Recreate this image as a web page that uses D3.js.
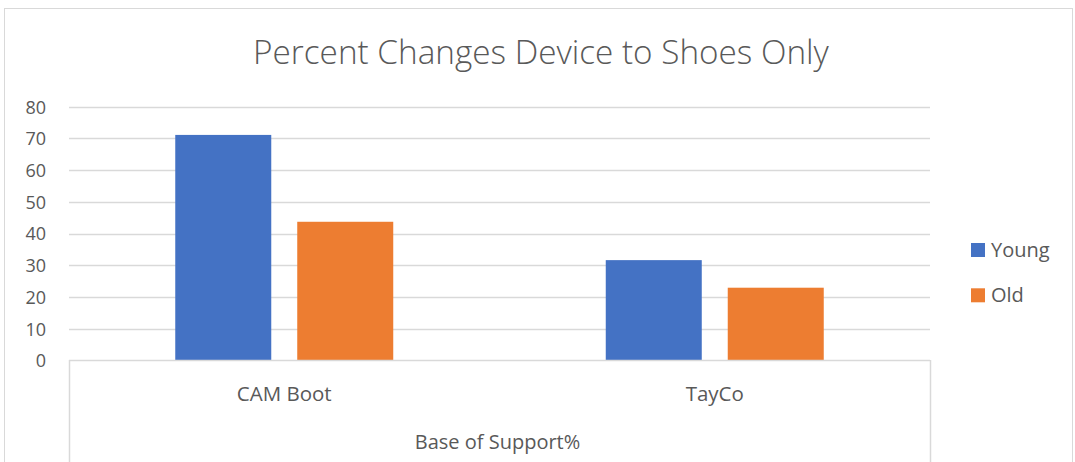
<!DOCTYPE html>
<html>
<head>
<meta charset="utf-8">
<script src="https://cdn.jsdelivr.net/npm/d3@7"></script>
<style>
  html, body { margin: 0; padding: 0; background: #fff; }
  svg { display: block; }
  text { font-family: "Open Sans", "Noto Sans", sans-serif; fill: #595959; }
</style>
</head>
<body>
<svg id="chart" width="1075" height="462"></svg>
<script>
const chartTitle = "Percent Changes Device to Shoes Only";
const categories = ["CAM Boot", "TayCo"];
const groupLabel = "Base of Support%";
const seriesNames = ["Young", "Old"];
const youngValues = [71.1, 31.6];
const oldValues = [43.7, 22.9];
const yTicks = [0, 10, 20, 30, 40, 50, 60, 70, 80];
const colors = ["#4472C4", "#ED7D31"];

const seriesValues = [youngValues, oldValues];
const data = categories.map((c, i) => ({
  category: c,
  values: seriesNames.map((s, j) => ({ series: s, value: seriesValues[j][i] }))
}));

const svg = d3.select("#chart");
const plot = { left: 69, right: 930, top: 106.7, bottom: 360.3 };

// chart border
svg.append("rect")
  .attr("x", 4.5).attr("y", 8.5)
  .attr("width", 1068).attr("height", 470)
  .attr("fill", "none").attr("stroke", "#d9d9d9").attr("stroke-width", 1);

const y = d3.scaleLinear().domain([0, 80]).range([plot.bottom, plot.top]);
const x0 = d3.scaleBand().domain(categories).range([plot.left, plot.right]).padding(0);
const x1 = d3.scaleBand().domain(seriesNames).range([0, x0.bandwidth()])
  .paddingInner(0.213).paddingOuter(0.871);

// gridlines
svg.append("g")
  .selectAll("line")
  .data(yTicks.filter(t => t > 0))
  .join("line")
  .attr("x1", plot.left).attr("x2", plot.right)
  .attr("y1", d => Math.round(y(d)) + 0.5).attr("y2", d => Math.round(y(d)) + 0.5)
  .attr("stroke", "#d9d9d9").attr("stroke-width", 1.5);

// y axis labels
const yAxis = d3.axisLeft(y).tickValues(yTicks).tickSize(0).tickPadding(0);
const yg = svg.append("g").attr("transform", `translate(46,0)`).call(yAxis);
yg.select(".domain").remove();
yg.selectAll("text")
  .attr("font-family", '"Open Sans", sans-serif')
  .attr("font-size", 18).attr("fill", "#595959").attr("dy", "0.36em");

// bars
const groups = svg.append("g").selectAll("g")
  .data(data).join("g")
  .attr("transform", d => `translate(${x0(d.category)},0)`);
groups.selectAll("rect")
  .data(d => d.values).join("rect")
  .attr("x", d => x1(d.series))
  .attr("width", x1.bandwidth())
  .attr("y", d => y(d.value))
  .attr("height", d => y(0) - y(d.value))
  .attr("fill", (d, i) => colors[i]);

// x axis line and outer ticks
svg.append("line")
  .attr("x1", plot.left).attr("x2", plot.right)
  .attr("y1", Math.round(y(0)) + 0.5).attr("y2", Math.round(y(0)) + 0.5)
  .attr("stroke", "#d9d9d9").attr("stroke-width", 1.5);
svg.append("g").selectAll("line")
  .data(x0.range())
  .join("line")
  .attr("x1", d => Math.round(d) + 0.5).attr("x2", d => Math.round(d) + 0.5)
  .attr("y1", Math.round(y(0))).attr("y2", 470)
  .attr("stroke", "#d9d9d9").attr("stroke-width", 1.5);

// category labels
svg.append("g").selectAll("text")
  .data(categories).join("text")
  .attr("x", d => x0(d) + x0.bandwidth() / 2)
  .attr("y", 401)
  .attr("text-anchor", "middle")
  .attr("font-size", 20.5)
  .text(d => d);

svg.append("text")
  .attr("x", (plot.left + plot.right) / 2 - 2)
  .attr("y", 449)
  .attr("text-anchor", "middle")
  .attr("font-size", 20)
  .text(groupLabel);

// title
const title = svg.append("text")
  .attr("x", 541).attr("y", 64)
  .attr("text-anchor", "middle")
  .attr("font-size", 30)
  .attr("font-weight", 300)
  .text(chartTitle);
const tw = title.node().getComputedTextLength();
title.attr("font-size", 30 * 576 / tw);

// legend
const legend = svg.append("g").selectAll("g")
  .data(seriesNames).join("g")
  .attr("transform", (d, i) => `translate(971,${243 + i * 45.3})`);
legend.append("rect")
  .attr("width", 14).attr("height", 14)
  .attr("fill", (d, i) => colors[i]);
legend.append("text")
  .attr("x", 20).attr("y", 14)
  .attr("font-size", 20)
  .text(d => d);
</script>
</body>
</html>
